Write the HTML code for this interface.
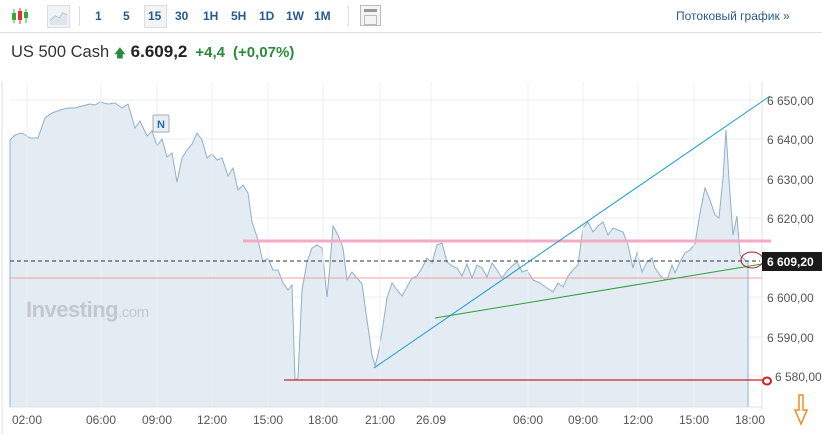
<!DOCTYPE html>
<html><head><meta charset="utf-8"><style>
body{margin:0;width:822px;height:434px;background:#fff;font-family:"Liberation Sans",Arial,sans-serif;overflow:hidden;position:relative}
.tb{position:absolute;top:0;left:0;width:822px;height:32px;border-bottom:1px solid #e0e0e0}
.tb span{position:absolute;top:9px;font-size:12px;font-weight:bold;color:#2a5a8c}
.ttl{position:absolute;top:42px;left:11px;font-size:16.5px;color:#333;white-space:nowrap}
</style></head><body>
<div class="tb">
<svg style="position:absolute;left:10px;top:6px" width="20" height="20"><g stroke="#3a3" stroke-width="1"><line x1="4" y1="3" x2="4" y2="17"/><line x1="16" y1="3" x2="16" y2="17"/></g><rect x="2" y="7" width="4" height="7" fill="#3a3"/><rect x="14" y="6" width="4" height="6" fill="#3a3"/><line x1="10" y1="2" x2="10" y2="18" stroke="#d33"/><rect x="8" y="5" width="4" height="9" fill="#d33"/></svg>
<div style="position:absolute;left:47px;top:5px;width:21px;height:21px;border:1px solid #ddd;background:#f0f3f7"><svg width="21" height="21"><polyline points="2,15 7,10 11,12 15,7 19,9" fill="none" stroke="#8ab"/><path d="M2 15 L7 10 L11 12 L15 7 L19 9 L19 19 L2 19Z" fill="#dde6f0"/></svg></div>
<div style="position:absolute;left:79px;top:6px;width:1px;height:20px;background:#ddd"></div>
<span style="left:95px">1</span><span style="left:123px">5</span>
<div style="position:absolute;left:144px;top:5px;width:21px;height:21px;border:1px solid #ddd;background:#f2f4f7"></div>
<span style="left:148px">15</span><span style="left:175px">30</span><span style="left:203px">1H</span><span style="left:231px">5H</span><span style="left:259px">1D</span><span style="left:286px">1W</span><span style="left:314px">1M</span>
<div style="position:absolute;left:348px;top:6px;width:1px;height:20px;background:#ddd"></div>
<div style="position:absolute;left:360px;top:5px;width:19px;height:19px;border:1px solid #bbb;background:#f4f4f4"><div style="margin:3px;height:3px;background:#999"></div><div style="margin:2px 3px;height:8px;border:1px solid #bbb"></div></div>
<span style="left:676px;font-weight:normal;font-size:12px">Потоковый график »</span>
</div>
<div class="ttl">US 500 Cash <span style="color:#2a8a3a;font-size:12px">&#129093;</span> <b style="color:#222;font-size:17px">6.609,2</b><b style="color:#2a8a3a;font-size:15px;margin-left:8px">+4,4</b><b style="color:#2a8a3a;font-size:15px;margin-left:8px">(+0,07%)</b></div>
<svg style="position:absolute;left:0;top:0" width="822" height="434">
<line x1="2" y1="82" x2="2" y2="434" stroke="#ddd"/>
<g stroke="#e8ecf0" stroke-width="1">
<line x1="10" y1="100" x2="762" y2="100"/><line x1="10" y1="139" x2="762" y2="139"/><line x1="10" y1="179" x2="762" y2="179"/><line x1="10" y1="218" x2="762" y2="218"/><line x1="10" y1="297" x2="762" y2="297"/><line x1="10" y1="337" x2="762" y2="337"/><line x1="10" y1="376" x2="762" y2="376"/>
</g>
<path d="M10,140 L15,135 L22,133 L30,138 L38,138 L45,118 L52,113 L60,110 L68,108 L75,108 L82,106 L90,104 L95,105 L100,102 L108,104 L115,103 L122,108 L128,104 L135,128 L140,121 L147,136 L152,131 L157,146 L162,139 L167,157 L172,153 L177,182 L182,158 L187,150 L192,144 L197,133 L202,140 L207,158 L212,154 L217,160 L222,158 L228,176 L233,168 L238,190 L243,185 L248,193 L252,222 L258,240 L263,262 L268,258 L273,270 L278,270 L283,283 L288,290 L292,285 L295,380 L298,378 L302,290 L307,262 L312,248 L317,245 L322,248 L327,297 L330,265 L333,226 L338,235 L343,248 L347,280 L352,272 L357,278 L362,284 L367,320 L372,355 L375,366 L379,350 L383,325 L387,298 L392,283 L397,290 L402,296 L407,287 L412,278 L417,276 L422,268 L427,258 L432,263 L437,245 L442,243 L447,262 L452,266 L457,268 L462,276 L467,264 L472,278 L477,265 L482,268 L487,277 L492,263 L497,270 L502,278 L507,271 L512,266 L517,262 L522,272 L527,270 L533,280 L540,283 L547,288 L553,292 L558,283 L563,287 L568,276 L573,270 L578,265 L583,228 L588,222 L593,232 L598,226 L603,222 L608,235 L613,228 L618,230 L623,232 L628,245 L633,268 L637,253 L642,272 L647,262 L652,258 L655,268 L660,275 L665,280 L668,277 L672,265 L675,273 L680,262 L685,253 L690,250 L695,244 L700,213 L705,188 L710,200 L715,215 L719,218 L723,178 L726,130 L729,180 L733,235 L737,216 L740,255 L745,260 L748,262 L748,407 L10,407 Z" fill="#e3ebf3" stroke="#8fb0cc" stroke-width="1"/>
<g stroke="#edf0f3"><line x1="27" y1="82" x2="27" y2="407"/><line x1="101" y1="82" x2="101" y2="407"/><line x1="157" y1="82" x2="157" y2="407"/><line x1="212" y1="82" x2="212" y2="407"/><line x1="268" y1="82" x2="268" y2="407"/><line x1="323" y1="82" x2="323" y2="407"/><line x1="380" y1="82" x2="380" y2="407"/><line x1="431" y1="82" x2="431" y2="407"/><line x1="528" y1="82" x2="528" y2="407"/><line x1="583" y1="82" x2="583" y2="407"/><line x1="638" y1="82" x2="638" y2="407"/><line x1="694" y1="82" x2="694" y2="407"/><line x1="750" y1="82" x2="750" y2="407"/></g>
<line x1="762" y1="82" x2="762" y2="410" stroke="#e0e0e0"/>
<line x1="10" y1="407" x2="762" y2="407" stroke="#e0e0e0"/>
<text x="26" y="317" font-size="22" font-weight="bold" fill="#c3c8cf" letter-spacing="-0.5">Investing<tspan font-size="15" font-weight="normal">.com</tspan></text>
<rect x="153" y="115" width="16" height="17" fill="#e9eef3" stroke="#aab" rx="1"/><text x="157" y="128" font-size="11" font-weight="bold" fill="#2a6aa8">N</text>
<line x1="243" y1="241" x2="771" y2="241" stroke="#f4a9c4" stroke-width="3"/>
<line x1="10" y1="261" x2="760" y2="261" stroke="#333" stroke-dasharray="4,3"/>
<line x1="10" y1="278" x2="762" y2="278" stroke="#f0a0a0" stroke-width="1"/>
<line x1="284" y1="380" x2="762" y2="380" stroke="#d02020" stroke-width="1.2"/>
<ellipse cx="767" cy="381" rx="4" ry="3.5" fill="none" stroke="#d02020" stroke-width="2"/>
<line x1="374" y1="368" x2="770" y2="96" stroke="#1a9ad0" stroke-width="1"/>
<line x1="435" y1="318" x2="762" y2="264" stroke="#2aa040" stroke-width="1"/>
<ellipse cx="752" cy="260" rx="11" ry="8" fill="none" stroke="#b02020" stroke-width="1"/>
<rect x="762" y="252" width="60" height="19" fill="#1a1a1a"/>
<text x="767" y="266" font-size="12" font-weight="bold" fill="#fff">6 609,20</text>
<g font-size="12" fill="#555"><text x="767" y="105">6 650,00</text><text x="767" y="144">6 640,00</text><text x="767" y="184">6 630,00</text><text x="767" y="223">6 620,00</text><text x="767" y="302">6 600,00</text><text x="767" y="342">6 590,00</text><text x="775" y="381">6 580,00</text></g>
<g font-size="12" fill="#555" text-anchor="middle"><text x="27" y="424">02:00</text><text x="101" y="424">06:00</text><text x="157" y="424">09:00</text><text x="212" y="424">12:00</text><text x="268" y="424">15:00</text><text x="323" y="424">18:00</text><text x="380" y="424">21:00</text><text x="431" y="424">26.09</text><text x="528" y="424">06:00</text><text x="583" y="424">09:00</text><text x="638" y="424">12:00</text><text x="694" y="424">15:00</text><text x="750" y="424">18:00</text></g>
<path d="M799,395 L803,395 L803,410 L807,410 L801,424 L795,410 L799,410 Z" fill="none" stroke="#f08a20" stroke-width="1.5"/>
</svg>
</body></html>
